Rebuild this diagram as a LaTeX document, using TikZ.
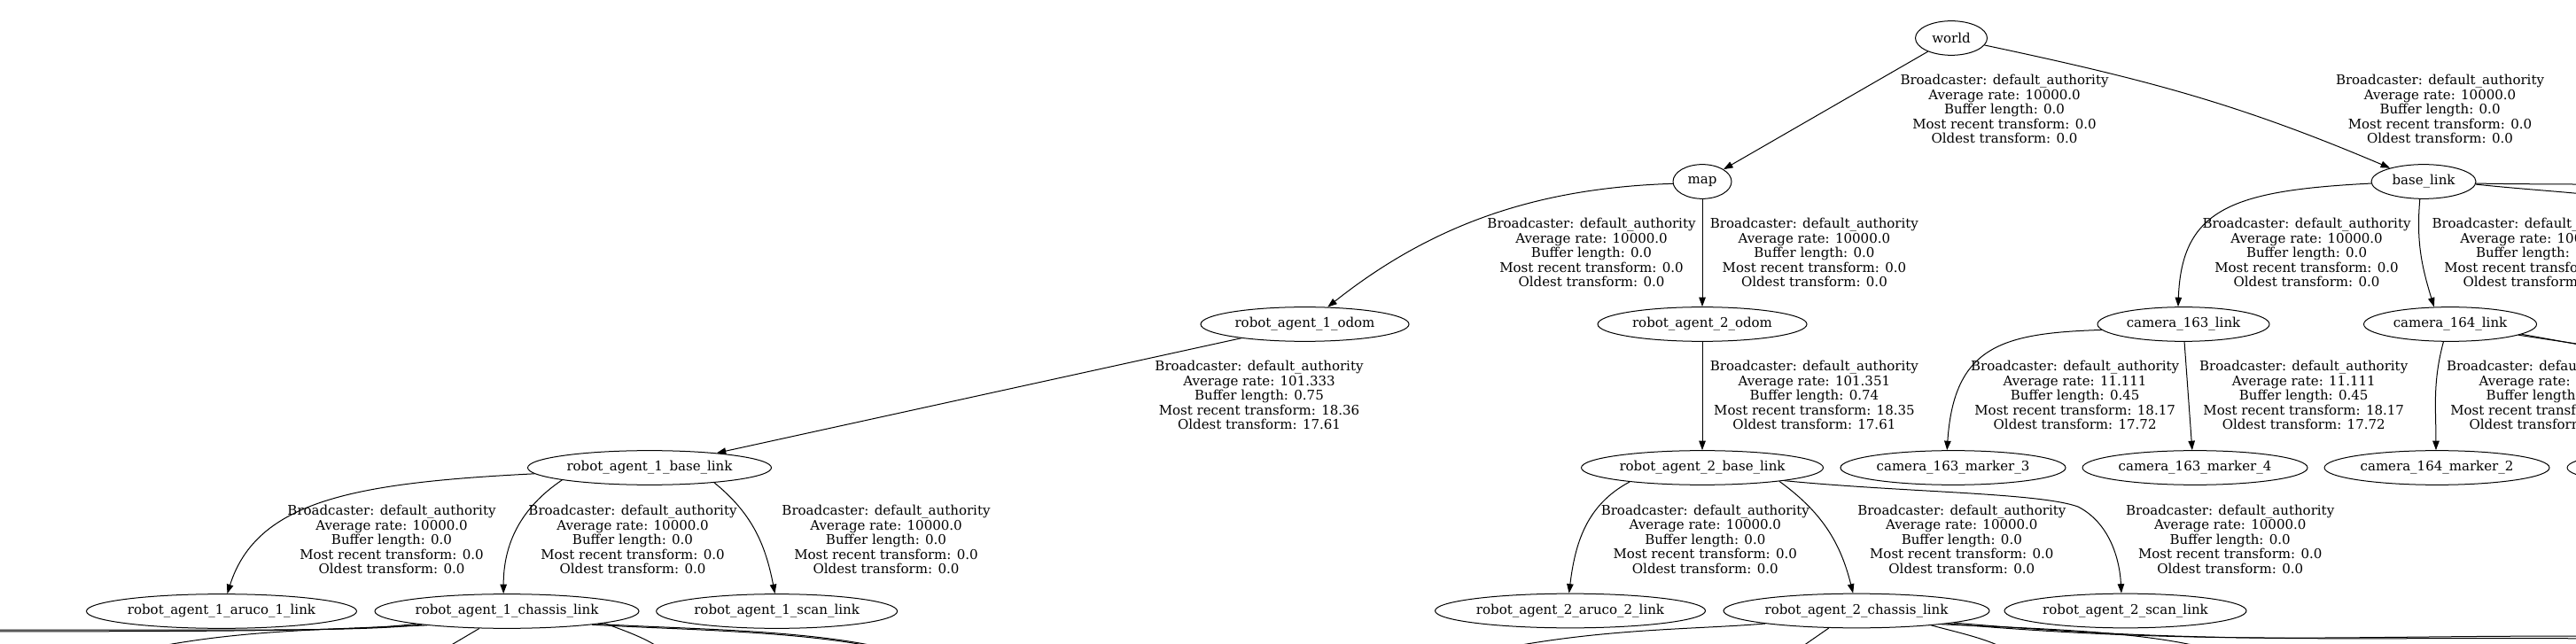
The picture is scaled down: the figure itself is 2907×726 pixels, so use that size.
\documentclass[tikz,border=0pt]{standalone}
\usepackage{fontspec}
\setmainfont{DejaVu Serif}
\usetikzlibrary{shapes.geometric,arrows.meta}

\newcommand{\tfstats}[4]{Broadcaster: default\_authority\\Average rate: #1\\Buffer length: #2\\Most recent transform: #3\\Oldest transform: #4}

\tikzset{
  frame/.style={draw, ellipse, line width=1pt, inner sep=0pt, minimum height=38.7pt},
  info/.style={align=center, inner sep=0pt},
  link/.style={line width=1pt, -{Triangle[length=10.5pt,width=7.5pt]}},
}

\begin{document}
\begin{tikzpicture}[x=1pt,y=1pt,font=\fontsize{15}{16.5}\selectfont]
\useasboundingbox (0,0) rectangle (2907,726);
\clip (0,0) rectangle (2907,726);

% frames
\node[frame,minimum width=81pt] (world) at (2202,683) {world};
\node[frame,minimum width=66pt] (map) at (1921,521) {map};
\node[frame,minimum width=118pt] (baselink) at (2735,521) {base\_link};
\node[frame,minimum width=235pt] (odomA) at (1472.5,360) {robot\_agent\_1\_odom};
\node[frame,minimum width=236pt] (odomB) at (1921,360) {robot\_agent\_2\_odom};
\node[frame,minimum width=194pt] (cam163) at (2464,360) {camera\_163\_link};
\node[frame,minimum width=195pt] (cam164) at (2765,360) {camera\_164\_link};
\node[frame,minimum width=275pt] (baseA) at (733,198) {robot\_agent\_1\_base\_link};
\node[frame,minimum width=273pt] (baseB) at (1921,198) {robot\_agent\_2\_base\_link};
\node[frame,minimum width=254pt] (mark163c) at (2204,198) {camera\_163\_marker\_3};
\node[frame,minimum width=254pt] (mark163d) at (2477,198) {camera\_163\_marker\_4};
\node[frame,minimum width=254pt] (mark164b) at (2750,198) {camera\_164\_marker\_2};
\node[frame,minimum width=254pt] (mark164x) at (3024,198) {};
\node[frame,minimum width=305pt] (arucoA) at (250,36) {robot\_agent\_1\_aruco\_1\_link};
\node[frame,minimum width=298pt] (chassisA) at (572,36) {robot\_agent\_1\_chassis\_link};
\node[frame,minimum width=272pt] (scanA) at (876.6,36) {robot\_agent\_1\_scan\_link};
\node[frame,minimum width=305pt] (arucoB) at (1772,36.5) {robot\_agent\_2\_aruco\_2\_link};
\node[frame,minimum width=300pt] (chassisB) at (2095,36.5) {robot\_agent\_2\_chassis\_link};
\node[frame,minimum width=273pt] (scanB) at (2398.5,36.5) {robot\_agent\_2\_scan\_link};

% ends of the edges that leave the picture
\coordinate (offW1) at (-150,13);
\coordinate (offW2) at (-150,15);
\coordinate (offS1) at (90,-25);
\coordinate (offS2) at (462,-30);
\coordinate (offS3) at (775,-45);
\coordinate (offS4) at (1080,-40);
\coordinate (offS5) at (1600,-30);
\coordinate (offS6) at (1996,-30);
\coordinate (offS7) at (2305,-50);
\coordinate (offS8) at (2580,-50);
\coordinate (offE1) at (3100,4);
\coordinate (offE2) at (3100,1);
\coordinate (offR1) at (3000,516);
\coordinate (offR2) at (3000,495);
\coordinate (offR3) at (3000,324);
\coordinate (offR4) at (3000,321);

% edges
\draw[link] (world) -- (map);
\draw[link] (world.-12) to[out=-12,in=157] (baselink.158);
\draw[link] (map.184) .. controls (1740,514) and (1620,476) .. (odomA.37);
\draw[link] (map) -- (odomB);
\draw[link] (odomA) -- (baseA);
\draw[link] (odomB) -- (baseB);
\draw[link] (baselink.182) .. controls (2520,511) and (2462,491) .. (cam163.107);
\draw[link] (baselink.258) to[out=265,in=107] (cam164.133);
\draw[link] (baselink.-2) to[out=-1,in=178] (offR1);
\draw[link] (baselink.-3) to[out=-6,in=170] (offR2);
\draw[link] (cam163.184) .. controls (2260,350) and (2205,336) .. (mark163c.109);
\draw[link] (cam163.273) -- (mark163d.99);
\draw[link] (cam164.249) to[out=255,in=90] (mark164b.93);
\draw[link] (cam164.-9) -- (offR3);
\draw[link] (cam164.-8) -- (offR4);
\draw[link] (baseA.183) .. controls (400,181) and (290,161) .. (arucoA.72);
\draw[link] (baseA.188) to[out=214,in=90] (chassisA.101);
\draw[link] (baseA.-13) to[out=-39,in=101] (scanA.96);
\draw[link] (baseB.191) to[out=208,in=83] (arucoB.94);
\draw[link] (baseB.-10) to[out=-36,in=104] (chassisB.101);
\draw[link] (baseB.-9) .. controls (2150,170) and (2300,170) .. (2345,154)
  .. controls (2380,136) and (2392,96) .. (scanB.103);
\draw[link] (chassisA.188) .. controls (400,14) and (300,13) .. (offW1);
\draw[link] (chassisA.189) .. controls (400,13) and (300,15) .. (offW2);
\draw[link] (chassisA.190) .. controls (330,14) and (230,14) .. (offS1);
\draw[link] (chassisA.212) -- (offS2);
\draw[link] (chassisA.-7) to[out=-20,in=115] (offS3);
\draw[link] (chassisA.-8) .. controls (800,14) and (1000,16) .. (offS4);
\draw[link] (chassisA.-9) .. controls (800,13) and (1000,14) .. (offS4);
\draw[link] (chassisB.188) .. controls (1900,14) and (1760,18) .. (offS5);
\draw[link] (chassisB.212) -- (offS6);
\draw[link] (chassisB.-11) to[out=-15,in=120] (offS7);
\draw[link] (chassisB.-9) .. controls (2350,14) and (2510,12) .. (offS8);
\draw[link] (chassisB.-8) to[out=-5,in=178] (offE1);
\draw[link] (chassisB.-7) to[out=-5,in=178] (offE2);

% edge labels
\node[info] (lWorldMap) at (2262,603) {\tfstats{10000.0}{0.0}{0.0}{0.0}};
\node[info] (lWorldBase) at (2753.5,603) {\tfstats{10000.0}{0.0}{0.0}{0.0}};
\node[info] (lMapOdomA) at (1796,441) {\tfstats{10000.0}{0.0}{0.0}{0.0}};
\node[info] (lMapOdomB) at (2047.4,441) {\tfstats{10000.0}{0.0}{0.0}{0.0}};
\node[info] (lOdomA) at (1421,279.7) {\tfstats{101.333}{0.75}{18.36}{17.61}};
\node[info] (lOdomB) at (2047.4,279.7) {\tfstats{101.351}{0.74}{18.35}{17.61}};
\node[info] (lBase163) at (2603,441) {\tfstats{10000.0}{0.0}{0.0}{0.0}};
\node[info] (lBase164) at (2862,441) {\tfstats{10000.0}{0.0}{0.0}{0.0}};
\node[info] (l163c) at (2341.6,279.7) {\tfstats{11.111}{0.45}{18.17}{17.72}};
\node[info] (l163d) at (2599.7,279.7) {\tfstats{11.111}{0.45}{18.17}{17.72}};
\node[info] (l164b) at (2878.5,279.7) {\tfstats{11.111}{0.45}{18.17}{17.72}};
\node[info] (lArucoA) at (442,116.7) {\tfstats{10000.0}{0.0}{0.0}{0.0}};
\node[info] (lChassisA) at (714,116.7) {\tfstats{10000.0}{0.0}{0.0}{0.0}};
\node[info] (lScanA) at (1000,116.7) {\tfstats{10000.0}{0.0}{0.0}{0.0}};
\node[info] (lArucoB) at (1924.3,117.3) {\tfstats{10000.0}{0.0}{0.0}{0.0}};
\node[info] (lChassisB) at (2213.8,117.3) {\tfstats{10000.0}{0.0}{0.0}{0.0}};
\node[info] (lScanB) at (2516.7,117.3) {\tfstats{10000.0}{0.0}{0.0}{0.0}};
\end{tikzpicture}
\end{document}
